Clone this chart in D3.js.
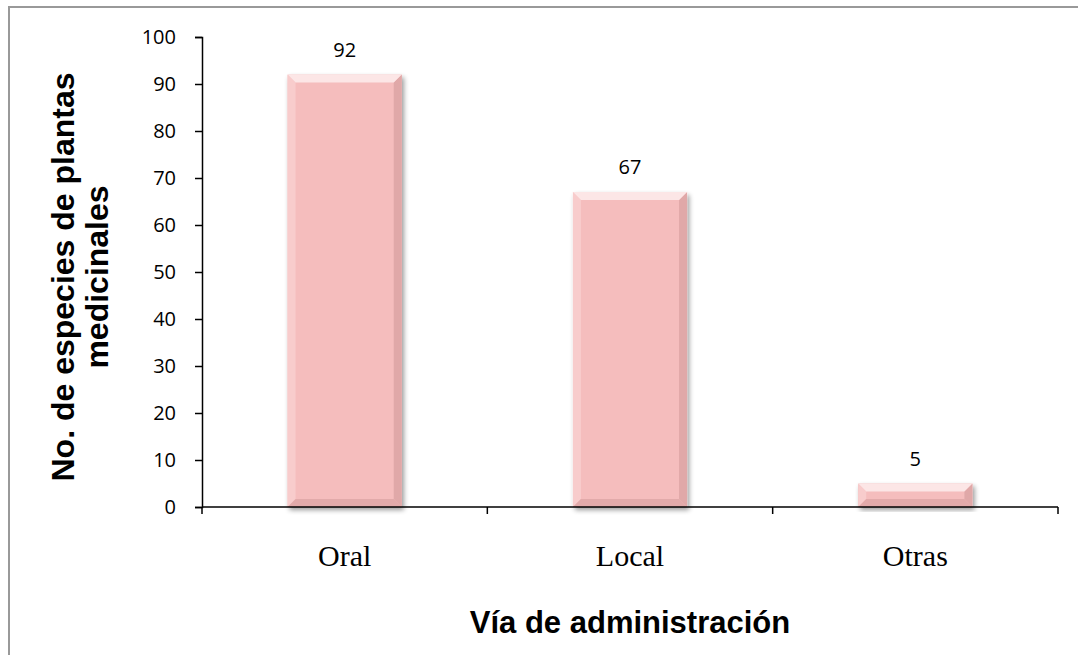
<!DOCTYPE html>
<html>
<head>
<meta charset="utf-8">
<script src="https://cdn.jsdelivr.net/npm/d3@7"></script>
<style>
  body { margin: 0; background: #fff; }
  svg { display: block; }
</style>
</head>
<body>
<svg id="chart" width="1078" height="655"></svg>
<script>
// data
const categories = ["Oral", "Local", "Otras"];
const values = [92, 67, 5];
const yTicks = [0, 10, 20, 30, 40, 50, 60, 70, 80, 90, 100];

const svg = d3.select("#chart");
const plotLeft = 202, plotRight = 1058, plotTop = 37, plotBottom = 507;

// outer frame (only top + left visible in the shot)
svg.append("rect")
  .attr("x", 9).attr("y", 7)
  .attr("width", 1200).attr("height", 800)
  .attr("fill", "none")
  .attr("stroke", "#999")
  .attr("stroke-width", 2);

const x = d3.scaleBand().domain(categories).range([plotLeft, plotRight]).paddingInner(0.6).paddingOuter(0.3);
const y = d3.scaleLinear().domain([0, 100]).range([plotBottom, plotTop]);

const defs = svg.append("defs");
const f = defs.append("filter").attr("id", "shadow").attr("x", "-20%").attr("y", "-20%").attr("width", "140%").attr("height", "140%");
f.append("feGaussianBlur").attr("in", "SourceAlpha").attr("stdDeviation", 2.5);
f.append("feOffset").attr("dx", 2).attr("dy", 3).attr("result", "b");
f.append("feComponentTransfer").append("feFuncA").attr("type", "linear").attr("slope", 0.4);
const m = f.append("feMerge");
m.append("feMergeNode");
m.append("feMergeNode").attr("in", "SourceGraphic");

// bars with a small bevel
const bars = svg.selectAll("g.bar").data(values).enter().append("g")
  .attr("class", "bar")
  .attr("filter", "url(#shadow)");

bars.append("rect")
  .attr("x", (d, i) => x(categories[i]))
  .attr("y", d => y(d))
  .attr("width", x.bandwidth())
  .attr("height", d => y(0) - y(d))
  .attr("fill", "#f5bdbd");

function bevel(d, i, side) {
  const x0 = x(categories[i]), x1 = x0 + x.bandwidth();
  const y0 = y(d), y1 = y(0);
  const b = Math.min(8, (y1 - y0) / 2);
  if (side === "top") return [[x0, y0], [x1, y0], [x1 - b, y0 + b], [x0 + b, y0 + b]];
  if (side === "bottom") return [[x0, y1], [x1, y1], [x1 - b, y1 - b], [x0 + b, y1 - b]];
  if (side === "left") return [[x0, y0], [x0 + b, y0 + b], [x0 + b, y1 - b], [x0, y1]];
  return [[x1, y0], [x1 - b, y0 + b], [x1 - b, y1 - b], [x1, y1]];
}
const bevelFill = { top: "#fce6e6", bottom: "#e2aaaa", left: "#f8cccc", right: "#e0a8a8" };
["left", "right", "bottom", "top"].forEach(function(side) {
  bars.append("polygon")
    .attr("points", (d, i) => bevel(d, i, side).map(p => p.join(",")).join(" "))
    .attr("fill", bevelFill[side]);
});

// value labels
svg.selectAll("text.val").data(values).enter().append("text")
  .attr("class", "val")
  .attr("x", (d, i) => x(categories[i]) + x.bandwidth() / 2)
  .attr("y", d => y(d) - 18)
  .attr("text-anchor", "middle")
  .style("font-family", "'Open Sans', sans-serif")
  .style("font-size", "20px")
  .text(d => d);

// y axis
const yAxis = svg.append("g")
  .attr("transform", "translate(" + plotLeft + ",0)")
  .call(d3.axisLeft(y).tickValues(yTicks).tickSize(7).tickPadding(19));
yAxis.select(".domain").attr("stroke", "#000").attr("stroke-width", 1.5);
yAxis.selectAll(".tick line").attr("stroke", "#000").attr("stroke-width", 1.5);
yAxis.selectAll(".tick text")
  .style("font-family", "'Open Sans', sans-serif")
  .style("font-size", "20px")
  .attr("fill", "#000");

// x axis: ticks at category boundaries
const bounds = d3.range(categories.length + 1).map(i => plotLeft + i * (plotRight - plotLeft) / categories.length);
svg.append("line")
  .attr("x1", plotLeft).attr("x2", plotRight)
  .attr("y1", y(0)).attr("y2", y(0))
  .attr("stroke", "#000").attr("stroke-width", 1.5);
svg.selectAll("line.xt").data(bounds).enter().append("line")
  .attr("class", "xt")
  .attr("x1", d => d).attr("x2", d => d)
  .attr("y1", y(0)).attr("y2", y(0) + 7)
  .attr("stroke", "#000").attr("stroke-width", 1.5);

svg.selectAll("text.cat").data(categories).enter().append("text")
  .attr("class", "cat")
  .attr("x", d => x(d) + x.bandwidth() / 2)
  .attr("y", 566)
  .attr("text-anchor", "middle")
  .style("font-family", "'Liberation Serif', 'Times New Roman', serif")
  .style("font-size", "30px")
  .text(d => d);

// axis titles
svg.append("text")
  .attr("x", 630).attr("y", 633)
  .attr("text-anchor", "middle")
  .style("font-family", "'Liberation Sans', Arial, sans-serif")
  .style("font-weight", "bold")
  .style("font-size", "31px")
  .text("Vía de administración");

const yt = svg.append("text")
  .attr("transform", "translate(74,277) rotate(-90)")
  .attr("text-anchor", "middle")
  .style("font-family", "'Liberation Sans', Arial, sans-serif")
  .style("font-weight", "bold")
  .style("font-size", "32px");
yt.append("tspan").attr("x", 0).attr("y", 0).text("No. de especies de plantas");
yt.append("tspan").attr("x", 0).attr("y", 34).text("medicinales");
</script>
</body>
</html>
